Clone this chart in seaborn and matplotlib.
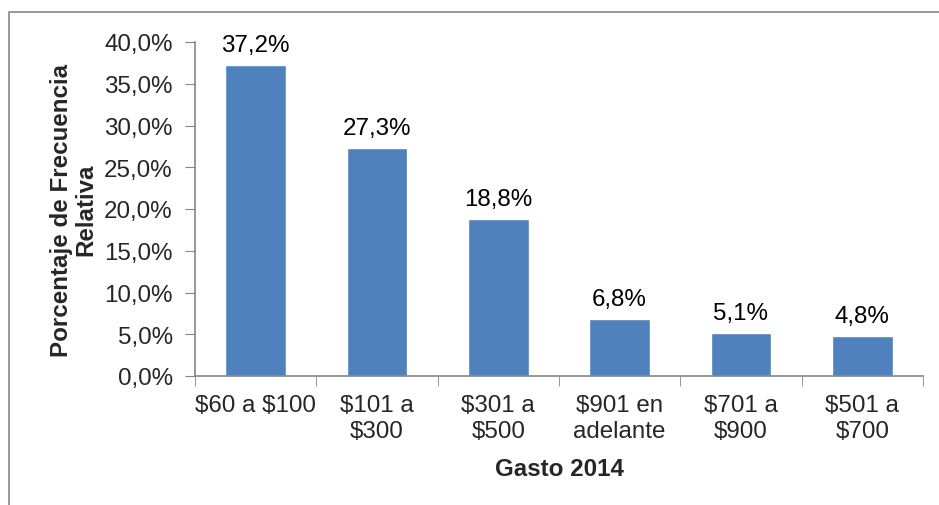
import numpy as np
import pandas as pd
import matplotlib
matplotlib.use("Agg")
import matplotlib.pyplot as plt
import seaborn as sns
from matplotlib.patches import Rectangle

categorias = ["$60 a $100", "$101 a\n$300", "$301 a\n$500", "$901 en\nadelante", "$701 a\n$900", "$501 a\n$700"]
porcentajes = [37.2, 27.3, 18.8, 6.8, 5.1, 4.8]
etiquetas = ["37,2%", "27,3%", "18,8%", "6,8%", "5,1%", "4,8%"]
yticks = [0, 5, 10, 15, 20, 25, 30, 35, 40]
ytick_labels = ["0,0%", "5,0%", "10,0%", "15,0%", "20,0%", "25,0%", "30,0%", "35,0%", "40,0%"]

sns.set_style("white")
plt.rcParams["font.family"] = ["Liberation Sans", "DejaVu Sans"]
plt.rcParams["text.parse_math"] = False

fs = 17.4

df = pd.DataFrame({"gasto": categorias, "pct": porcentajes})

fig = plt.figure(figsize=(9.39, 5.06), dpi=100)
ax = fig.add_axes([195 / 939, 1 - 377 / 506, (923 - 195) / 939, (377 - 43) / 506])

sns.barplot(data=df, x="gasto", y="pct", color="#4F81BD", width=0.5, saturation=1, ax=ax)

for i, (v, t) in enumerate(zip(porcentajes, etiquetas)):
    ax.text(i, v + 1.1, t, ha="center", va="bottom", fontsize=fs, color="black")

ax.set_xlim(-0.5, 5.5)
ax.set_ylim(0, 40)
ax.set_yticks(yticks)
ax.set_yticklabels(ytick_labels, fontsize=fs)
ax.set_xticks(range(len(categorias)))
ax.set_xticklabels(categorias, fontsize=fs, linespacing=1.22)
ax.set_xticks(np.arange(-0.5, 6, 1), minor=True)
ax.tick_params(axis="x", which="major", length=0, pad=13)
ax.tick_params(axis="x", which="minor", length=7, color="#868686", direction="out", bottom=True)
ax.tick_params(axis="y", length=7, color="#868686", direction="out", left=True, pad=9)

for s in ["top", "right"]:
    ax.spines[s].set_visible(False)
for s in ["left", "bottom"]:
    ax.spines[s].set_color("#868686")
    ax.spines[s].set_linewidth(1.2)

ax.set_xlabel("Gasto 2014", fontsize=fs, fontweight="bold", labelpad=11)
ax.set_ylabel("Porcentaje de Frecuencia\nRelativa", fontsize=fs, fontweight="bold", linespacing=1.08)
ax.yaxis.set_label_coords((97 - 195) / 728, 0.5)

fig.patches.append(Rectangle((9 / 939, -0.1), 1.0, 1.1 - 13 / 506, transform=fig.transFigure,
                             fill=False, edgecolor="#888888", linewidth=1.2))

fig.savefig("out.png", dpi=100)
